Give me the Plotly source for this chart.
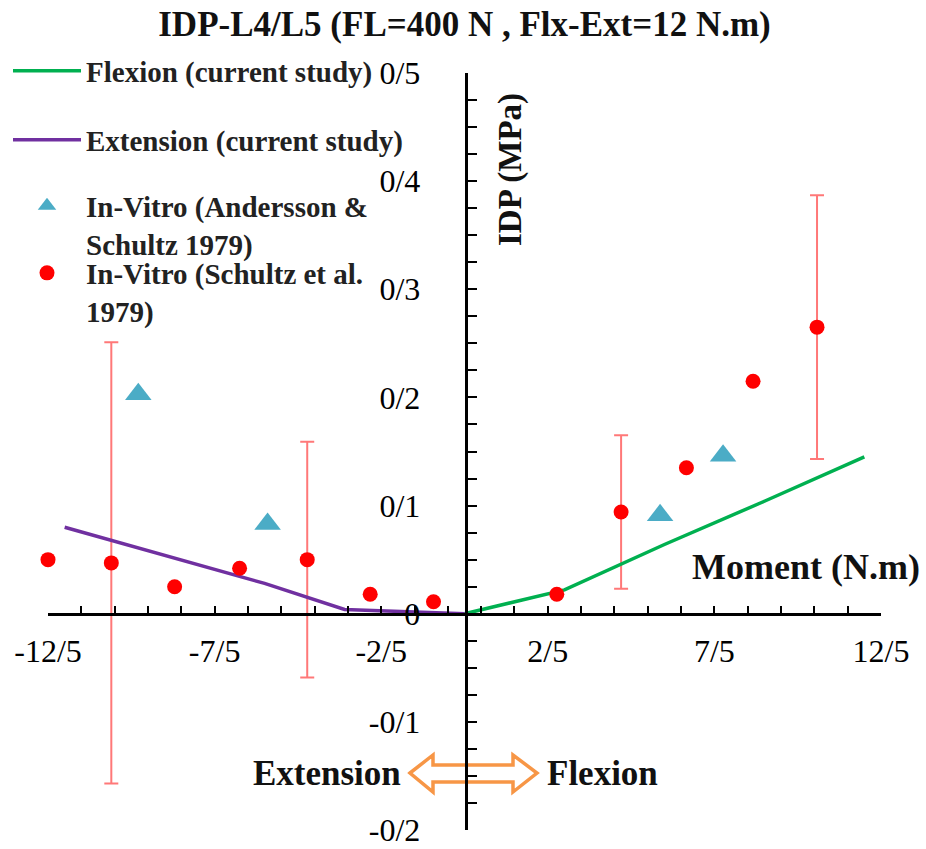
import plotly.graph_objects as go

# ---------------- data ----------------
flex_x = [0, 3, 6, 9, 12]
flex_y = [0.0, 0.022, 0.064, 0.104, 0.145]

ext_x = [-12, -9, -6, -3.6, -2, 0]
ext_y = [0.080, 0.054, 0.028, 0.004, 0.002, 0.0]

and_x = [-9.79, -5.91, 5.87, 7.76]
and_y = [0.203, 0.083, 0.091, 0.146]

sch_x = [-12.5, -10.6, -8.7, -6.75, -4.72, -2.83, -0.93, 2.77, 4.70, 6.66, 8.66, 10.58]
sch_y = [0.050, 0.047, 0.025, 0.042, 0.050, 0.018, 0.011, 0.018, 0.094, 0.135, 0.215, 0.265]
sch_err = [None, 0.204, None, None, 0.109, None, None, None, 0.071, None, None, 0.122]

x_tick_vals = [-12.5, -7.5, -2.5, 2.5, 7.5, 12.5]
x_tick_text = ["-12/5", "-7/5", "-2/5", "2/5", "7/5", "12/5"]
y_tick_vals = [-0.2, -0.1, 0.0, 0.1, 0.2, 0.3, 0.4, 0.5]
y_tick_text = ["-0/2", "-0/1", "0", "0/1", "0/2", "0/3", "0/4", "0/5"]

name_flex = "Flexion (current study)"
name_ext = "Extension (current study)"
name_and = "In-Vitro (Andersson &<br>Schultz 1979)"
name_sch = "In-Vitro (Schultz et al.<br>1979)"
title_text = "IDP-L4/L5 (FL=400 N , Flx-Ext=12 N.m)"

# ---------------- layout geometry ----------------
W, H = 926, 849
ML, MR, MT, MB = 48, 45, 73, 19
PW, PH = W - ML - MR, H - MT - MB


def px(xp):
    return (xp - ML) / PW


def py(yp):
    return (H - MB - yp) / PH


FONT = "Liberation Serif"
GREEN = "#00B050"
PURPLE = "#7030A0"
BLUE = "#4BACC6"
RED = "#FF0000"
ERR = "#FF7878"
ORANGE = "#F79646"

ex = [x for x, e in zip(sch_x, sch_err) if e is not None]
ey = [y for y, e in zip(sch_y, sch_err) if e is not None]
ee = [e for e in sch_err if e is not None]

fig = go.Figure()

fig.add_trace(go.Scatter(
    x=ex, y=ey, mode="markers", showlegend=False, hoverinfo="skip",
    marker=dict(color=RED, size=15, opacity=0),
    error_y=dict(type="data", array=ee, color=ERR, thickness=2, width=7),
    cliponaxis=False,
))
fig.add_trace(go.Scatter(
    x=flex_x, y=flex_y, mode="lines", name=name_flex,
    line=dict(color=GREEN, width=3.5), legend="legend", cliponaxis=False,
))
fig.add_trace(go.Scatter(
    x=ext_x, y=ext_y, mode="lines", name=name_ext,
    line=dict(color=PURPLE, width=3.5), legend="legend2", cliponaxis=False,
))
fig.add_trace(go.Scatter(
    x=and_x, y=and_y, mode="markers", name=name_and,
    marker=dict(color=BLUE, size=23, symbol="triangle-up"),
    legend="legend3", cliponaxis=False,
))
fig.add_trace(go.Scatter(
    x=sch_x, y=sch_y, mode="markers", name=name_sch,
    marker=dict(color=RED, size=15), legend="legend4", cliponaxis=False,
))

leg_common = dict(
    bgcolor="rgba(0,0,0,0)", font=dict(family=FONT, size=29, color="#222", weight="bold"),
    itemwidth=68, valign="top", xanchor="left", yanchor="middle",
)
LX = px(8)

fig.update_layout(
    width=W, height=H,
    margin=dict(l=ML, r=MR, t=MT, b=MB, autoexpand=False),
    paper_bgcolor="white", plot_bgcolor="white",
    font=dict(family=FONT, color="black"),
    title=dict(text=title_text, x=0.5, xref="paper", xanchor="center",
               y=1 - 24 / H, yanchor="middle",
               font=dict(family=FONT, size=35, color="#111", weight="bold")),
    legend=dict(x=LX, y=py(71), **leg_common),
    legend2=dict(x=LX, y=py(140), **leg_common),
    legend3=dict(x=LX, y=py(225), **leg_common),
    legend4=dict(x=LX, y=py(292), **leg_common),
    xaxis=dict(
        range=[-12.5, 12.5], anchor="free", position=py(614),
        showgrid=False, zeroline=False, showline=True, linecolor="black", linewidth=2.5,
        tickmode="array", tickvals=x_tick_vals, ticktext=x_tick_text,
        ticks="inside", ticklen=7, tickwidth=2, tickcolor="black",
        minor=dict(tickmode="linear", tick0=-12.5, dtick=1, ticks="inside",
                   ticklen=7, tickwidth=2, tickcolor="black"),
        ticklabelstandoff=8,
        tickfont=dict(family=FONT, size=32, color="black"),
    ),
    yaxis=dict(
        range=[-0.2, 0.5], anchor="free", position=px(465.5),
        showgrid=False, zeroline=False, showline=True, linecolor="black", linewidth=2.5,
        tickmode="array", tickvals=y_tick_vals, ticktext=y_tick_text,
        ticks="inside", ticklen=10, tickwidth=2, tickcolor="black",
        minor=dict(tickmode="linear", tick0=-0.2, dtick=0.025, ticks="inside",
                   ticklen=10, tickwidth=2, tickcolor="black"),
        ticklabelstandoff=38,
        tickfont=dict(family=FONT, size=32, color="black"),
    ),
)

bold = dict(family=FONT, color="#111", weight="bold")
fig.add_annotation(text="Moment (N.m)", xref="paper", yref="paper",
                   x=px(806), y=py(567), xanchor="center", yanchor="middle",
                   showarrow=False, font=dict(size=36, **bold))
fig.add_annotation(text="IDP (MPa)", xref="paper", yref="paper", textangle=-90,
                   x=px(510), y=py(170), xanchor="center", yanchor="middle",
                   showarrow=False, font=dict(size=33, **bold))
fig.add_annotation(text="Extension", xref="paper", yref="paper",
                   x=px(327), y=py(773), xanchor="center", yanchor="middle",
                   showarrow=False, font=dict(size=35, **bold))
fig.add_annotation(text="Flexion", xref="paper", yref="paper",
                   x=px(602), y=py(773), xanchor="center", yanchor="middle",
                   showarrow=False, font=dict(size=35, **bold))

arrow_pts = [(410, 773), (433, 755), (433, 765), (513, 765), (513, 755), (537, 773),
             (513, 792), (513, 782), (433, 782), (433, 792)]
path = "M " + " L ".join(f"{px(a):.5f},{py(b):.5f}" for a, b in arrow_pts) + " Z"
fig.add_shape(type="path", path=path, xref="paper", yref="paper",
              line=dict(color=ORANGE, width=3.5), fillcolor="white", layer="below")

fig.write_html("out.html")
